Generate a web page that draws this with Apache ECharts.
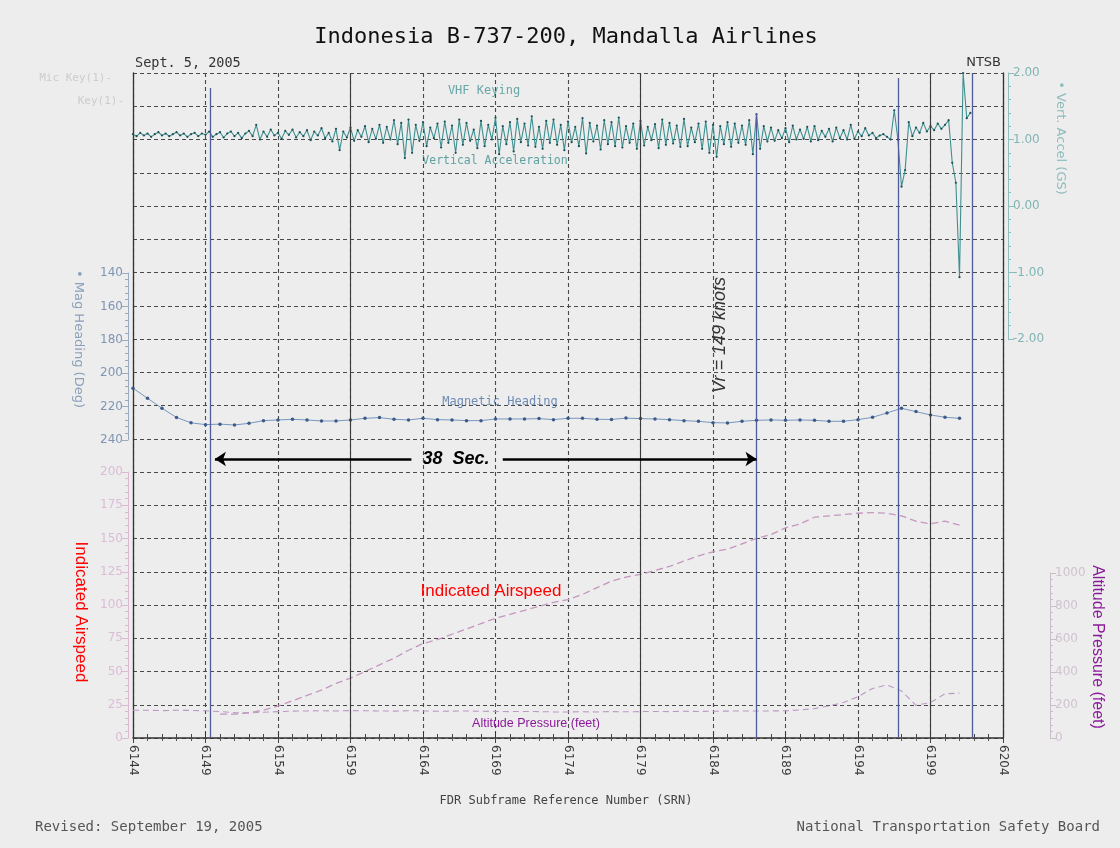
<!DOCTYPE html>
<html><head><meta charset="utf-8">
<script src="https://cdn.jsdelivr.net/npm/echarts@6/dist/echarts.min.js"></script>
<style>html,body{margin:0;padding:0;background:#ededed;}#c{width:1120px;height:848px;}</style>
</head><body><div id="c"></div>
<script>
// ---------------- DATA ----------------
const srnMin = 6144, srnMax = 6204, srnStep = 5;           // x axis (FDR subframe reference number)
const accelStartSRN = 6144, accelSamplesPerSec = 4;       // vertical acceleration (G)
const accelValues = [
 1.08,1.05,1.10,1.06, 1.09,1.04,1.08,1.11, 1.06,1.09,1.05,1.08, 1.11,1.06,1.09,1.04,
 1.08,1.10,1.05,1.09, 1.07,1.12,1.04,1.08, 1.11,1.03,1.09,1.12, 1.05,1.10,1.02,1.09,
 1.13,1.05,1.22,1.00, 1.12,1.04,1.15,1.06, 1.10,1.01,1.13,1.07, 1.15,1.03,1.11,1.05,
 1.14,0.99,1.12,1.06, 1.17,1.02,1.10,0.97, 1.16,0.84,1.12,1.03, 1.18,0.98,1.14,1.04,
 1.20,0.96,1.16,1.01, 1.22,0.95,1.19,1.00, 1.29,0.93,1.25,0.72, 1.30,0.80,1.22,0.98,
 1.26,0.90,1.18,1.02, 1.24,0.88,1.27,0.95, 1.21,0.80,1.30,0.92, 1.25,0.98,1.15,0.87,
 1.28,0.90,1.22,1.00, 1.33,0.78,1.20,0.93, 1.26,0.82,1.31,0.96, 1.24,0.91,1.35,0.89,
 1.19,0.86,1.28,0.95, 1.30,0.92,1.22,0.84, 1.27,0.96,1.19,0.90, 1.32,0.79,1.25,0.97,
 1.21,0.85,1.29,0.93, 1.26,0.90,1.33,0.88, 1.20,0.95,1.24,0.86, 1.28,0.91,1.19,0.99,
 1.23,0.87,1.30,0.92, 1.25,0.94,1.21,0.89, 1.31,0.90,1.18,0.96, 1.24,0.86,1.27,0.80,
 1.22,0.74,1.20,0.93, 1.26,0.89,1.24,0.95, 1.21,0.92,1.29,0.78, 1.38,0.86,1.20,0.97,
 1.18,0.98,1.14,1.02, 1.17,0.96,1.21,1.00, 1.15,1.01,1.19,0.97, 1.20,0.99,1.13,1.04,
 1.16,0.97,1.18,1.02, 1.14,1.00,1.22,1.01, 1.12,1.05,1.17,1.06, 1.10,1.02,1.06,1.08,
 1.04,1.00,1.44,1.00, 0.29,0.54,1.26,1.05, 1.18,1.10,1.25,1.12, 1.20,1.14,1.24,1.16,
 1.22,1.29,0.65,0.35, -1.07,2.00,1.32,1.40
];
const headingStartSRN = 6144;                              // magnetic heading (deg), 1 per second
const headingValues = [
 209,215,221,226.5,229.7,230.8,230.5,231,230,228.4,
 228,227.6,228,228.6,228.6,228,227,226.6,227.6,228,
 227,227.8,228,228.4,228.4,227.4,227.4,227.4,227.2,227.8,
 227,227,227.6,227.7,226.9,227.2,227.4,227.8,228.4,228.8,
 229.6,229.8,228.8,228.2,228,228.2,228,228.2,228.8,228.8,
 227.8,226.4,223.8,221,223,225,226.4,227
];
const airspeedStartSRN = 6150;                             // indicated airspeed (knots)
const airspeedValues = [
 18,18,19,21,24,28,32,36,41,45,50,55,60,66,71,74,78,82,86,90,
 93,96,99,102,104,108,113,118,121,123,126,129,133,137,140,142,146,150,153,158,
 161,166,167,168,169,169.5,169,167,163,161,163,160
];
const altitudeStartSRN = 6144;                             // pressure altitude (feet)
const altitudeValues = [
 168,168,166,168,167,165,160,154,152,156,160,163,164,165,164,166,165,164,163,165,
 164,162,163,164,162,161,160,161,160,158,158,159,158,160,159,160,161,160,162,161,
 162,163,164,164,164,165,170,178,195,215,250,300,322,285,198,215,268,272
];
const accelTicks = [-2, -1, 0, 1, 2];
const headingTicks = [140, 160, 180, 200, 220, 240];
const airspeedTicks = [0, 25, 50, 75, 100, 125, 150, 175, 200];
const altitudeTicks = [0, 200, 400, 600, 800, 1000];
const gridRows = 20;                                       // horizontal grid rows
const solidGridSRN = [6159, 6179, 6199];
const eventMarkerSRN = [6149.3, 6187.0, 6196.75, 6201.9];
const eventMarkerTopRow = [19.55, 18.8, 19.85, 20];
const vrArrow = { from: 6149.65, gapStart: 6163.2, gapEnd: 6169.5, to: 6187.0, row: 8.39 };

// ---------------- BUILD ----------------
const accelData = accelValues.map((v, i) => [accelStartSRN + i / accelSamplesPerSec, v]);
const headingData = headingValues.map((v, i) => [headingStartSRN + i, v]);
const airspeedData = airspeedValues.map((v, i) => [airspeedStartSRN + i, v]);
const altitudeData = altitudeValues.map((v, i) => [altitudeStartSRN + i, v]);

const L = 133, R = 117;
const grids = [
  { left: L, right: R, top: 73, height: 665 },   // 0 main frame
  { left: L, right: R, top: 73, height: 266 },   // 1 accel
  { left: L, right: R, top: 273, height: 167 },  // 2 heading
  { left: L, right: R, top: 472, height: 266 },  // 3 airspeed
  { left: L, right: R, top: 573, height: 165 }   // 4 altitude
];
const hiddenX = gi => ({ type: 'value', gridIndex: gi, min: srnMin, max: srnMax, show: false });
const sideAxis = (gi, pos, offset, min, max, interval, color, lblColor, fmt, inverse) => ({
  type: 'value', gridIndex: gi, position: pos, offset: offset, min: min, max: max, interval: interval,
  inverse: !!inverse,
  axisLine: { show: true, lineStyle: { color: color, width: 1 } },
  axisTick: { show: true, inside: false, length: 6, lineStyle: { color: color } },
  minorTick: { show: true, splitNumber: 5, length: 3, lineStyle: { color: color } },
  splitLine: { show: false },
  axisLabel: { color: lblColor, fontFamily: 'DejaVu Sans', fontSize: 12, margin: 5, formatter: fmt }
});
const vline = (name, items, color, width, type) => ({
  name: name, type: 'line', xAxisIndex: 0, yAxisIndex: 0, data: [], silent: true,
  markLine: { silent: true, symbol: ['none', 'none'], label: { show: false },
    lineStyle: { color: color, width: width, type: type }, data: items }
});
const T = (text, x, y, font, fill, align, rot) => ({
  type: 'text', x: x, y: y, rotation: rot || 0, silent: true,
  style: { text: text, font: font, fill: fill, align: align || 'center', verticalAlign: 'middle',
           textAlign: align || 'center', textVerticalAlign: 'middle' }
});

const option = {
  animation: false,
  backgroundColor: '#ededed',
  grid: grids,
  xAxis: [
    { type: 'value', gridIndex: 0, min: srnMin, max: srnMax, interval: srnStep, position: 'bottom',
      axisLine: { show: true, lineStyle: { color: '#333', width: 1.5 } },
      axisTick: { show: true, inside: true, length: 6, lineStyle: { color: '#333' } },
      minorTick: { show: true, splitNumber: 5, length: 4, lineStyle: { color: '#444' } },
      splitLine: { show: true, lineStyle: { color: '#4a4a4a', width: 1.1, type: [4, 3] } },
      axisLabel: { rotate: -90, color: '#3a3a3a', fontFamily: 'DejaVu Sans', fontSize: 12, margin: 7,
                   formatter: v => String(v) } },
    { type: 'value', gridIndex: 0, min: srnMin, max: srnMax, interval: srnStep, position: 'top',
      axisLine: { show: false },
      axisTick: { show: true, inside: true, length: 5, lineStyle: { color: '#444' } },
      minorTick: { show: true, splitNumber: 5, length: 3, lineStyle: { color: '#555' } },
      splitLine: { show: false }, axisLabel: { show: false } },
    hiddenX(1), hiddenX(2), hiddenX(3), hiddenX(4)
  ],
  yAxis: [
    { type: 'value', gridIndex: 0, min: 0, max: gridRows, interval: 1, position: 'left',
      axisLine: { show: true, lineStyle: { color: '#333', width: 1.3 } },
      axisTick: { show: false }, axisLabel: { show: false },
      splitLine: { show: true, lineStyle: { color: '#4a4a4a', width: 1.1, type: [4, 3] } } },
    { type: 'value', gridIndex: 0, min: 0, max: gridRows, position: 'right',
      axisLine: { show: true, lineStyle: { color: '#333', width: 1.3 } },
      axisTick: { show: false }, axisLabel: { show: false }, splitLine: { show: false } },
    sideAxis(1, 'right', 5, accelTicks[0], accelTicks[accelTicks.length - 1], 1, '#8dbdbd', '#82b4b4', v => v.toFixed(2)),
    sideAxis(2, 'left', 5, headingTicks[0], headingTicks[headingTicks.length - 1], 20, '#9aaac0', '#7f95b3', v => String(v), true),
    sideAxis(3, 'left', 5, airspeedTicks[0], airspeedTicks[airspeedTicks.length - 1], 25, '#dcb8d4', '#dcbcd6', v => String(v)),
    sideAxis(4, 'right', 47, altitudeTicks[0], altitudeTicks[altitudeTicks.length - 1], 200, '#cbbccb', '#cfc3cf', v => String(v))
  ],
  series: [
    vline('solidGrid', solidGridSRN.map(s => [{ coord: [s, 0] }, { coord: [s, gridRows] }]), '#3a3a3a', 1.1, 'solid'),
    vline('events', eventMarkerSRN.map((s, i) => [{ coord: [s, 0] }, { coord: [s, eventMarkerTopRow[i]] }]), '#4f5b9a', 1.3, 'solid'),
    { name: 'arrowL', type: 'line', xAxisIndex: 0, yAxisIndex: 0, data: [], silent: true,
      markLine: { silent: true, symbol: ['arrow', 'none'], symbolSize: [11, 11], label: { show: false },
        lineStyle: { color: '#000', width: 2.5, type: 'solid' },
        data: [[{ coord: [vrArrow.from, vrArrow.row] }, { coord: [vrArrow.gapStart, vrArrow.row] }]] } },
    { name: 'arrowR', type: 'line', xAxisIndex: 0, yAxisIndex: 0, data: [], silent: true,
      markLine: { silent: true, symbol: ['none', 'arrow'], symbolSize: [11, 11], label: { show: false },
        lineStyle: { color: '#000', width: 2.5, type: 'solid' },
        data: [[{ coord: [vrArrow.gapEnd, vrArrow.row] }, { coord: [vrArrow.to, vrArrow.row] }]] } },
    { name: 'Vertical Acceleration', type: 'line', xAxisIndex: 2, yAxisIndex: 2, data: accelData,
      showSymbol: true, showAllSymbol: true, symbol: 'circle', symbolSize: 2.2,
      itemStyle: { color: '#1f4f58' }, lineStyle: { color: '#3f8f90', width: 1.1 } },
    { name: 'Magnetic Heading', type: 'line', xAxisIndex: 3, yAxisIndex: 3, data: headingData,
      showSymbol: true, showAllSymbol: true, symbol: 'circle', symbolSize: 3.5,
      itemStyle: { color: '#3c5a88' }, lineStyle: { color: '#7896c0', width: 1 } },
    { name: 'Indicated Airspeed', type: 'line', xAxisIndex: 4, yAxisIndex: 4, data: airspeedData,
      showSymbol: false, lineStyle: { color: '#c496c0', width: 1.3, type: [7, 4] } },
    { name: 'Altitude Pressure', type: 'line', xAxisIndex: 5, yAxisIndex: 5, data: altitudeData,
      showSymbol: false, lineStyle: { color: '#bc98c4', width: 1.1, type: [6, 4] } }
  ],
  graphic: [
    T('Indonesia B-737-200, Mandalla Airlines', 566, 37, '22px "DejaVu Sans Mono"', '#111'),
    T('Sept. 5, 2005', 135, 63, '13.5px "DejaVu Sans Mono"', '#333', 'left'),
    T('NTSB', 1001, 63, '13px "DejaVu Sans"', '#333', 'right'),
    T('FDR Subframe Reference Number (SRN)', 566, 801, '12px "DejaVu Sans Mono"', '#444'),
    T('Revised: September 19, 2005', 35, 827, '14px "DejaVu Sans Mono"', '#555', 'left'),
    T('National Transportation Safety Board', 1100, 827, '14px "DejaVu Sans Mono"', '#555', 'right'),
    T('Mic Key(1)-', 112, 78, '11px "DejaVu Sans Mono"', '#cccccc', 'right'),
    T('Key(1)-', 124, 101, '11px "DejaVu Sans Mono"', '#cccccc', 'right'),
    T('• Vert. Accel (GS)', 1060, 138, '13px "DejaVu Sans"', '#8dbdbd', 'center', -Math.PI / 2),
    T('• Mag Heading (Deg)', 78, 339, '13px "DejaVu Sans"', '#8aa0bb', 'center', -Math.PI / 2),
    T('Indicated Airspeed', 81, 612, '17px "Liberation Sans"', '#ff0000', 'center', -Math.PI / 2),
    T('Altitude Pressure (feet)', 1097, 647, '16px "Liberation Sans"', '#8b1a9b', 'center', -Math.PI / 2),
    T('VHF Keying', 484, 91, '12px "DejaVu Sans Mono"', '#6aa8a8'),
    T('Vertical Acceleration', 495, 161, '11.5px "DejaVu Sans Mono"', '#5fa0a0'),
    T('Magnetic Heading', 500, 402, '12px "DejaVu Sans Mono"', '#6f8cb5'),
    T('Indicated Airspeed', 491, 591, '17px "Liberation Sans"', '#ff0000'),
    T('Altitude Pressure (feet)', 536, 724, '12.5px "Liberation Sans"', '#8b1a9b'),
    T('38  Sec.', 456, 459, 'bold italic 18px "Liberation Sans"', '#000'),
    T('Vr = 149 knots', 720, 335, 'italic 18px "Liberation Sans"', '#333', 'center', Math.PI / 2)
  ]
};
echarts.init(document.getElementById('c'), null, { renderer: 'canvas' }).setOption(option);
</script>
</body></html>
